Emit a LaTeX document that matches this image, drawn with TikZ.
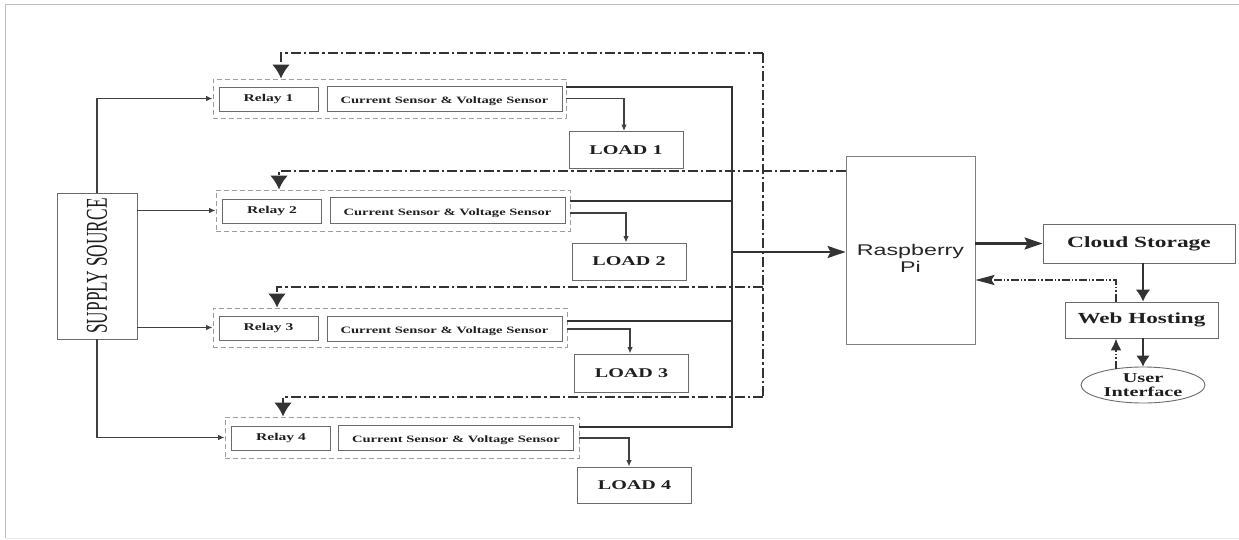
\documentclass[tikz,border=0pt]{standalone}
\usepackage{graphicx}
\usepackage{fontspec}
\setmainfont{Liberation Serif}
\newfontfamily\wserif[FakeStretch=1.5]{Liberation Serif}
\newfontfamily\wsans[FakeStretch=1.5]{Liberation Sans}
\usetikzlibrary{arrows.meta,calc,shapes.geometric}
\begin{document}
\begin{tikzpicture}[x=1pt,y=-1pt,
  box/.style={draw=black!58, line width=0.9pt, inner sep=0pt, text=black!88},
  grp/.style={draw=black!38, dash pattern=on 5pt off 3pt, line width=0.9pt, inner sep=0pt},
  relaybox/.style={box, minimum width=99pt, minimum height=24pt, font=\wserif\bfseries\fontsize{10.4}{12}\selectfont},
  csbox/.style={box, minimum width=235pt, minimum height=25pt, text height=12pt, text depth=1.6pt, font=\wserif\bfseries\fontsize{9.7}{11}\selectfont},
  loadbox/.style={box, minimum width=114pt, minimum height=37pt, font=\wserif\bfseries\fontsize{13.4}{15}\selectfont},
  thinarrow/.style={draw=black!75, line width=1.2pt, -{Latex[length=6.5pt,width=5.5pt]}},
  bus/.style={draw=black!80, line width=2.8pt},
  ctrl/.style={draw=black!80, line width=2.5pt, dash pattern=on 10pt off 3pt on 2.5pt off 3pt},
  ctrltwo/.style={draw=black!80, line width=2pt, dash pattern=on 8pt off 2pt on 1.5pt off 2pt on 1.5pt off 2pt},
  bighead/.style={-{Latex[length=14pt,width=18pt]}},
]
\useasboundingbox (0,0) rectangle (1239,540);
% frame
\draw[black!25, line width=1pt] (5.5,538) -- (5.5,4.5) -- (1239,4.5);
\draw[black!8, line width=1pt] (5.5,538.5) -- (1239,538.5);

% supply source
\node[box, minimum width=80pt, minimum height=146pt] (sup) at (97,266)
  {\rotatebox{90}{\fontsize{17.3}{18}\selectfont\scalebox{1}[1.75]{SUPPLY SOURCE}}};

% groups
\node[grp, minimum width=353pt, minimum height=39pt] (g1) at (389.5,98.5) {};
\node[relaybox] (r1) at (268.5,99) {Relay 1};
\node[csbox] (c1) at (444.5,98.5) {Current Sensor \& Voltage Sensor};
\node[loadbox] (l1) at (626,150) {LOAD 1};

\node[grp, minimum width=354pt, minimum height=41pt] (g2) at (393,210.5) {};
\node[relaybox] (r2) at (272,211) {Relay 2};
\node[csbox, minimum height=26pt] (c2) at (447.5,210) {Current Sensor \& Voltage Sensor};
\node[loadbox] (l2) at (629,261.5) {LOAD 2};

\node[grp, minimum width=354pt, minimum height=39pt] (g3) at (390,327.5) {};
\node[relaybox] (r3) at (268.5,328.5) {Relay 3};
\node[csbox] (c3) at (444.5,328.5) {Current Sensor \& Voltage Sensor};
\node[loadbox, minimum height=38pt] (l3) at (631.5,373) {LOAD 3};

\node[grp, minimum width=354pt, minimum height=41pt] (g4) at (402,437.5) {};
\node[relaybox] (r4) at (281,438) {Relay 4};
\node[csbox] (c4) at (456,437.5) {Current Sensor \& Voltage Sensor};
\node[loadbox, minimum height=36pt] (l4) at (634.5,485) {LOAD 4};

% raspberry pi and cloud side
\node[box, draw=black!50, minimum width=129pt, minimum height=188pt] (pi) at (910.5,250) {};
\node[font=\wsans\fontsize{15.5}{17}\selectfont, align=center, text=black!85, inner sep=0pt] (pit) at (910.5,258) {Raspberry\\Pi};
\node[box, minimum width=192pt, minimum height=39pt, font=\wserif\bfseries\fontsize{15.6}{17}\selectfont] (cl) at (1139,243.5) {Cloud Storage};
\node[box, minimum width=153pt, minimum height=36pt, font=\wserif\bfseries\fontsize{15.4}{17}\selectfont] (wb) at (1141.5,320) {Web Hosting};
\node[ellipse, draw=black!58, line width=0.9pt, minimum width=124pt, minimum height=36pt, inner xsep=0pt, inner ysep=-3pt, align=center, text=black!88, font=\wserif\bfseries\fontsize{13.5}{13.5}\selectfont] (ui) at (1143,385) {User\\Interface};

% supply connectors
\draw[thinarrow] (sup.north) |- (g1.west);
\draw[thinarrow] (sup.east |- g2.west) -- (g2.west);
\draw[thinarrow] (sup.east |- g3.west) -- (g3.west);
\draw[thinarrow] (sup.south) |- (g4.west);

% load connectors
\draw[thinarrow] (g1.east) -| ([xshift=-2pt]l1.north);
\draw[thinarrow] ([yshift=-2.5pt]g2.east) -| ([xshift=-3pt]l2.north);
\draw[thinarrow] ([yshift=-1.5pt]g3.east) -| ([xshift=-1.5pt]l3.north);
\draw[thinarrow] ([yshift=-0.5pt]g4.east) -| ([xshift=-5.5pt]l4.north);

% bus
\coordinate (bt) at (732,87);
\coordinate (b2) at (732,201);
\coordinate (bm) at (732,252);
\coordinate (b3) at (732,321);
\coordinate (bb) at (732,427);
\draw[bus] (g1.east |- bt) -- (bt) -- (bb) -- (g4.east |- bb);
\draw[bus] (g2.east |- b2) -- (b2);
\draw[bus] (g3.east |- b3) -- (b3);
\draw[bus, line width=2.2pt, -{Stealth[length=18pt,width=12pt,inset=3pt]}] (bm) -- (bm -| pi.west);

% control lines
\coordinate (t1) at (763,53);
\coordinate (t3) at (763,287);
\coordinate (t4) at (763,397);
\coordinate (p2) at (0,171);
\coordinate (x1) at (281,0);
\coordinate (x2) at (279,0);
\coordinate (x3) at (277,0);
\coordinate (x4) at (283,0);
\draw[ctrl] (t1) -- (t4);
\draw[ctrl, bighead] (t1) -| (x1 |- g1.north);
\draw[ctrl, bighead] (pi.west |- p2) -| (x2 |- g2.north);
\draw[ctrl, bighead] (t3) -| (x3 |- g3.north);
\draw[ctrl, bighead] (t4) -| (x4 |- g4.north);

% right side connectors
\coordinate (ux) at (1116,0);
\coordinate (pr) at (0,280);
\draw[bus, line width=2.2pt, -{Stealth[length=18pt,width=12pt,inset=3pt]}] (pi.east |- cl) -- (cl.west);
\draw[bus, line width=2.4pt, -{Latex[length=12pt,width=15pt]}] (cl.south -| ui) -- (wb.north -| ui);
\draw[bus, line width=2.4pt, -{Latex[length=11pt,width=14pt]}] (wb.south -| ui) -- (ui.north);
\draw[ctrltwo, -{Latex[length=12pt,width=11pt]}] ($(ui.north -| ux)+(0,2)$) -- (wb.south -| ux);
\draw[ctrltwo, -{Stealth[length=19pt,width=10pt,inset=3pt]}] (wb.north -| ux) |- (pi.east |- pr);
\end{tikzpicture}
\end{document}
